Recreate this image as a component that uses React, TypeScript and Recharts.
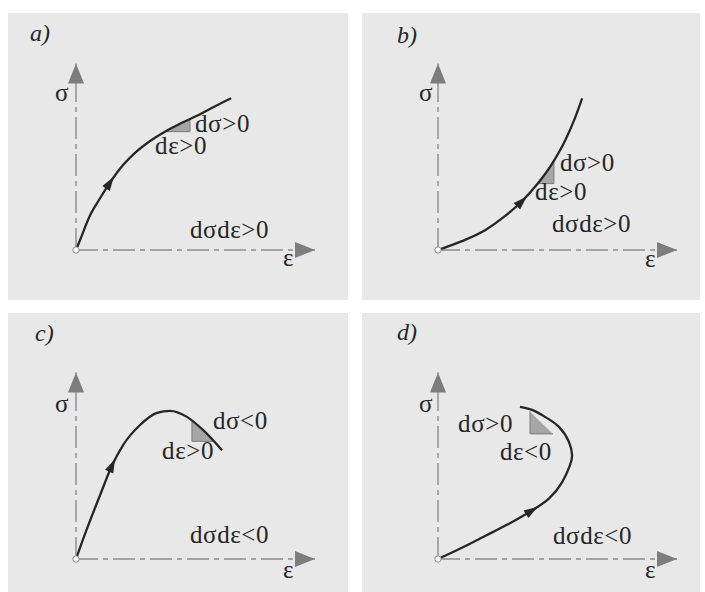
import React from 'react'
import { ComposedChart, Line, Area, Scatter, XAxis, YAxis } from 'recharts'

type Pt = { x: number; y: number }
type Tag = { x: number; y: number; text: string }

// stress–strain paths, in axis units (ε axis runs 0..10, σ axis 0..8)
const curveA: Pt[] = [
  { x: 0, y: 0 }, { x: 0.17, y: 0.43 }, { x: 0.59, y: 1.49 }, { x: 1.0, y: 2.21 },
  { x: 1.42, y: 2.89 }, { x: 1.84, y: 3.49 }, { x: 2.47, y: 4.17 }, { x: 3.1, y: 4.68 },
  { x: 3.72, y: 5.08 }, { x: 4.35, y: 5.42 }, { x: 5.19, y: 5.83 }, { x: 5.82, y: 6.17 },
  { x: 6.49, y: 6.51 },
]
const curveB: Pt[] = [
  { x: 0, y: 0 }, { x: 1.0, y: 0.38 }, { x: 1.97, y: 0.85 }, { x: 2.8, y: 1.45 },
  { x: 3.51, y: 2.09 }, { x: 4.14, y: 2.81 }, { x: 4.77, y: 3.7 }, { x: 5.31, y: 4.68 },
  { x: 5.73, y: 5.66 }, { x: 6.03, y: 6.51 },
]
const curveC: Pt[] = [
  { x: 0, y: 0 }, { x: 0.46, y: 1.3 }, { x: 1.0, y: 2.72 }, { x: 1.51, y: 4.02 },
  { x: 1.97, y: 4.89 }, { x: 2.68, y: 5.75 }, { x: 3.39, y: 6.27 }, { x: 3.93, y: 6.36 },
  { x: 4.64, y: 6.1 }, { x: 5.31, y: 5.54 }, { x: 6.11, y: 4.67 },
]
const curveD: Pt[] = [
  { x: 0, y: 0 }, { x: 1.0, y: 0.48 }, { x: 1.97, y: 0.99 }, { x: 2.97, y: 1.51 },
  { x: 3.93, y: 2.08 }, { x: 4.64, y: 2.59 }, { x: 5.19, y: 3.29 }, { x: 5.52, y: 4.02 },
  { x: 5.61, y: 4.45 }, { x: 5.48, y: 5.02 }, { x: 5.06, y: 5.67 }, { x: 4.48, y: 6.1 },
  { x: 3.93, y: 6.4 }, { x: 3.43, y: 6.53 },
]

// increment triangles: two vertices on the path plus the right-angle corner
const triA = { a: { x: 3.72, y: 5.08 }, b: { x: 4.77, y: 5.62 }, corner: { x: 4.77, y: 5.08 } }
const triB = { a: { x: 4.14, y: 2.85 }, b: { x: 4.85, y: 3.85 }, corner: { x: 4.85, y: 2.85 } }
const triC = { a: { x: 4.85, y: 5.93 }, b: { x: 5.73, y: 5.05 }, corner: { x: 4.85, y: 5.05 } }
const triD = { a: { x: 3.85, y: 6.32 }, b: { x: 4.81, y: 5.37 }, corner: { x: 3.85, y: 5.37 } }

const labelsA: Tag[] = [
  { x: -0.88, y: 6.38, text: 'σ' }, { x: 8.66, y: -0.68, text: 'ε' },
  { x: 4.98, y: 5.06, text: 'dσ>0' }, { x: 3.31, y: 4.13, text: 'dε>0' },
  { x: 4.77, y: 0.51, text: 'dσdε>0' },
]
const labelsB: Tag[] = [
  { x: -0.79, y: 6.38, text: 'σ' }, { x: 8.66, y: -0.72, text: 'ε' },
  { x: 5.1, y: 3.4, text: 'dσ>0' }, { x: 4.06, y: 2.13, text: 'dε>0' },
  { x: 4.77, y: 0.77, text: 'dσdε>0' },
]
const labelsC: Tag[] = [
  { x: -0.88, y: 6.32, text: 'σ' }, { x: 8.66, y: -0.82, text: 'ε' },
  { x: 5.73, y: 5.58, text: 'dσ<0' }, { x: 3.6, y: 4.29, text: 'dε>0' },
  { x: 4.77, y: 0.69, text: 'dσdε<0' },
]
const labelsD: Tag[] = [
  { x: -0.79, y: 6.32, text: 'σ' }, { x: 8.66, y: -0.82, text: 'ε' },
  { x: 0.84, y: 5.45, text: 'dσ>0' }, { x: 2.59, y: 4.24, text: 'dε<0' },
  { x: 4.81, y: 0.65, text: 'dσdε<0' },
]

const X_END = 10
const Y_END = 8
const xAxisLine: Pt[] = [{ x: 0, y: 0 }, { x: X_END, y: 0 }]
const yAxisLine: Pt[] = [{ x: 0, y: 0 }, { x: 0, y: Y_END }]

// pixels per axis unit
const KX = 23.9
const KY = 23.3

const SERIF = '"Liberation Serif", "Times New Roman", serif'
const AXIS_GREY = '#8c8c8c'
const INK = '#262626'

const arrowShape = (len: number, half: number, fill: string, atTip: boolean) => (props: any) => {
  const { cx, cy, payload } = props
  const back = atTip ? -len : -len / 2
  const tip = atTip ? 0 : len / 2
  return (
    <polygon
      points={`${tip},0 ${back},${-half} ${back},${half}`}
      fill={fill}
      transform={`translate(${cx},${cy}) rotate(${payload.angle})`}
    />
  )
}

const textShape = (props: any) => (
  <text x={props.cx} y={props.cy} fontFamily={SERIF} fontSize={25} letterSpacing={0.6} fill={INK}>
    {props.payload.text}
  </text>
)

const originShape = (props: any) => (
  <circle cx={props.cx} cy={props.cy} r={3.2} fill="#fafafa" stroke={AXIS_GREY} strokeWidth={1} />
)

interface PanelProps {
  letter: string
  left: number
  top: number
  width: number
  height: number
  ox: number
  oy: number
  letterX: number
  letterBase: number
  curve: Pt[]
  smooth: 'monotone' | 'natural'
  arrowAt: number
  tri: { a: Pt; b: Pt; corner: Pt }
  tags: Tag[]
}

function Panel(p: PanelProps) {
  const { letter, left, top, width, height, ox, oy, letterX, letterBase, curve, smooth, arrowAt, tri, tags } = p
  const xDomain = [-ox / KX, (width - ox) / KX]
  const yDomain = [-(height - oy) / KY, oy / KY]

  // heading of the direction arrow follows the neighbouring path points
  const p0 = curve[arrowAt - 1]
  const p2 = curve[arrowAt + 1]
  const heading = (Math.atan2(-(p2.y - p0.y) * KY, (p2.x - p0.x) * KX) * 180) / Math.PI
  const pathArrow = [{ ...curve[arrowAt], angle: heading }]
  const axisArrows = [
    { x: X_END, y: 0, angle: 0 },
    { x: 0, y: Y_END, angle: -90 },
  ]

  const fillPts = [tri.a, tri.b].sort((m, n) => m.x - n.x)
  const legs = [tri.a, tri.corner, tri.b]

  return (
    <div style={{ position: 'absolute', left, top, width, height, background: '#e8e8e8' }}>
      <div
        style={{
          position: 'absolute',
          left: letterX,
          top: letterBase - 19,
          fontFamily: SERIF,
          fontStyle: 'italic',
          fontSize: 24,
          lineHeight: '24px',
          color: INK,
        }}
      >
        {letter}
      </div>
      <ComposedChart width={width} height={height} margin={{ top: 0, right: 0, bottom: 0, left: 0 }}>
        <XAxis type="number" dataKey="x" domain={xDomain} allowDataOverflow hide />
        <YAxis type="number" dataKey="y" domain={yDomain} allowDataOverflow hide />
        <Line data={xAxisLine} dataKey="y" type="linear" stroke={AXIS_GREY} strokeWidth={1.4}
          strokeDasharray="22 5 5 5" dot={false} isAnimationActive={false} />
        <Line data={yAxisLine} dataKey="y" type="linear" stroke={AXIS_GREY} strokeWidth={1.4}
          strokeDasharray="22 5 5 5" dot={false} isAnimationActive={false} />
        <Area data={fillPts} dataKey="y" type="linear" baseValue={tri.corner.y} fill="#a6a6a6"
          fillOpacity={1} stroke="none" isAnimationActive={false} />
        <Line data={legs} dataKey="y" type="linear" stroke="#7a7a7a" strokeWidth={1}
          dot={false} isAnimationActive={false} />
        <Line data={curve} dataKey="y" type={smooth} stroke={INK} strokeWidth={2.3}
          dot={false} isAnimationActive={false} />
        <Scatter data={axisArrows} shape={arrowShape(20, 8, '#7d7d7d', true)} isAnimationActive={false} />
        <Scatter data={pathArrow} shape={arrowShape(14, 4.5, INK, false)} isAnimationActive={false} />
        <Scatter data={[{ x: 0, y: 0 }]} shape={originShape} isAnimationActive={false} />
        <Scatter data={tags} shape={textShape} isAnimationActive={false} />
      </ComposedChart>
    </div>
  )
}

export default function App() {
  return (
    <div style={{ position: 'absolute', left: 0, top: 0, width: 705, height: 592, background: '#ffffff', overflow: 'hidden' }}>
      <Panel letter="a)" left={8} top={13} width={340} height={287} ox={68} oy={237}
        letterX={22} letterBase={27} curve={curveA} smooth="monotone" arrowAt={4} tri={triA} tags={labelsA} />
      <Panel letter="b)" left={362} top={13} width={338} height={287} ox={76} oy={237}
        letterX={35} letterBase={29} curve={curveB} smooth="monotone" arrowAt={4} tri={triB} tags={labelsB} />
      <Panel letter="c)" left={8} top={313} width={340} height={279} ox={68} oy={246}
        letterX={27} letterBase={27} curve={curveC} smooth="monotone" arrowAt={3} tri={triC} tags={labelsC} />
      <Panel letter="d)" left={362} top={313} width={338} height={279} ox={76} oy={246}
        letterX={35} letterBase={26} curve={curveD} smooth="natural" arrowAt={4} tri={triD} tags={labelsD} />
    </div>
  )
}
